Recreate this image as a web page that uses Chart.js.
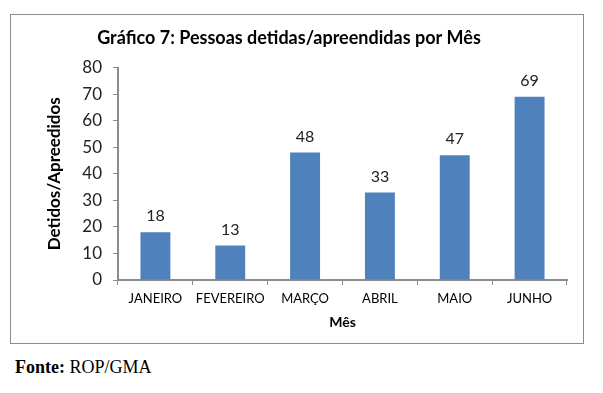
<!DOCTYPE html>
<html lang="pt">
<head>
    <meta charset="UTF-8">
    <title>Gráfico 7</title>
    <style>
        body {
            margin: 0;
            background: #fff;
        }
        #chart-box {
            position: absolute;
            left: 10px;
            top: 14px;
            width: 574px;
            height: 330px;
            border: 1px solid #8c8c8c;
            box-sizing: border-box;
        }
        #fonte {
            position: absolute;
            left: 15px;
            top: 357px;
            font-family: "Liberation Serif", "Times New Roman", serif;
            font-size: 18px;
            color: #000;
        }
    </style>
    <script src="https://cdn.jsdelivr.net/npm/chart.js"></script>
</head>
<body>
    <div id="chart-box"><canvas id="barChart"></canvas></div>
    <div id="fonte"><b>Fonte:</b> ROP/GMA</div>

    <script>
        // Data
        const meses = ['JANEIRO', 'FEVEREIRO', 'MARÇO', 'ABRIL', 'MAIO', 'JUNHO'];
        const detidos = [18, 13, 48, 33, 47, 69];
        const yTicks = [0, 10, 20, 30, 40, 50, 60, 70, 80];

        const fontFamily = 'Lato, "Open Sans", sans-serif';

        // Value labels above each bar
        const barLabels = {
            id: 'barLabels',
            afterDatasetsDraw(chart) {
                const ctx = chart.ctx;
                const meta = chart.getDatasetMeta(0);
                ctx.save();
                ctx.font = '16px ' + fontFamily;
                ctx.fillStyle = '#222';
                ctx.textAlign = 'center';
                ctx.textBaseline = 'bottom';
                meta.data.forEach((bar, i) => {
                    ctx.fillText(detidos[i], bar.x, bar.y - 8);
                });
                ctx.restore();
            }
        };

        let ctx = document.getElementById('barChart').getContext('2d');
        let barChart = new Chart(ctx, {
            type: 'bar',
            data: {
                labels: meses,
                datasets: [{
                    label: 'Detidos/Apreedidos',
                    data: detidos,
                    backgroundColor: '#4F81BD',
                    categoryPercentage: 1,
                    barPercentage: 0.4
                }]
            },
            options: {
                responsive: true,
                maintainAspectRatio: false,
                animation: false,
                layout: {
                    padding: { left: 0, right: 16, top: 0, bottom: 0 }
                },
                plugins: {
                    legend: { display: false },
                    tooltip: { enabled: false },
                    title: {
                        display: true,
                        text: 'Gráfico 7: Pessoas detidas/apreendidas por Mês',
                        color: '#000',
                        font: { family: fontFamily, size: 18, weight: 'bold' },
                        padding: { top: 12, bottom: 19 }
                    }
                },
                scales: {
                    x: {
                        afterFit(scale) {
                            scale.height = 63;
                        },
                        grid: {
                            display: true,
                            drawOnChartArea: false,
                            drawTicks: true,
                            tickLength: 5,
                            color: '#8c8c8c',
                            lineWidth: 1
                        },
                        border: { color: '#8c8c8c', width: 2 },
                        ticks: {
                            color: '#000',
                            font: { family: fontFamily, size: 13 },
                            padding: 6,
                            maxRotation: 0
                        },
                        title: {
                            display: true,
                            text: 'Mês',
                            color: '#000',
                            font: { family: fontFamily, size: 14, weight: 'bold' },
                            padding: { top: 0, bottom: 12 }
                        }
                    },
                    y: {
                        min: 0,
                        max: 80,
                        afterBuildTicks(scale) {
                            scale.ticks = yTicks.map(v => ({ value: v }));
                        },
                        afterFit(scale) {
                            scale.width = 107;
                        },
                        grid: {
                            display: true,
                            drawOnChartArea: false,
                            drawTicks: true,
                            tickLength: 5,
                            color: '#8c8c8c',
                            lineWidth: 1
                        },
                        border: { color: '#8c8c8c', width: 2 },
                        ticks: {
                            color: '#222',
                            font: { family: fontFamily, size: 17 },
                            padding: 11
                        },
                        title: {
                            display: true,
                            text: 'Detidos/Apreedidos',
                            color: '#000',
                            font: { family: fontFamily, size: 17, weight: 'bold' },
                            padding: { top: 33, bottom: 0 }
                        }
                    }
                }
            },
            plugins: [barLabels]
        });
    </script>
</body>
</html>
